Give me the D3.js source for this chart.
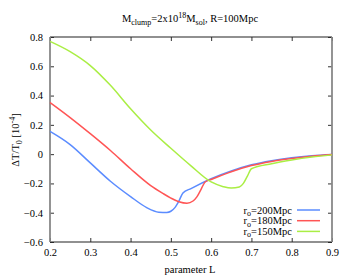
<!DOCTYPE html>
<html>
<head>
<meta charset="utf-8">
<script src="https://cdn.jsdelivr.net/npm/d3@7"></script>
<style>
  body { margin: 0; background: #fff; }
  text { font-family: "Liberation Serif", "DejaVu Serif", serif; fill: #000; }
</style>
</head>
<body>
<div id="chart"></div>
<script>
// data
var xTicks = [0.2, 0.3, 0.4, 0.5, 0.6, 0.7, 0.8, 0.9]
var yTicks = [-0.6, -0.4, -0.2, 0, 0.2, 0.4, 0.6, 0.8]

var blueL = [0.2, 0.25, 0.3, 0.35, 0.4, 0.44, 0.47, 0.49, 0.5, 0.51, 0.52, 0.53, 0.55, 0.6, 0.65, 0.7, 0.75, 0.8, 0.85, 0.9]
var blueV = [0.155, 0.065, -0.06, -0.185, -0.29, -0.365, -0.396, -0.398, -0.39, -0.365, -0.32, -0.265, -0.235, -0.168, -0.115, -0.073, -0.045, -0.025, -0.011, -0.002]

var redL = [0.2, 0.25, 0.3, 0.35, 0.4, 0.45, 0.48, 0.5, 0.52, 0.54, 0.555, 0.565, 0.575, 0.585, 0.6, 0.65, 0.7, 0.75, 0.8, 0.85, 0.9]
var redV = [0.353, 0.25, 0.14, 0.025, -0.1, -0.215, -0.268, -0.3, -0.325, -0.335, -0.32, -0.29, -0.24, -0.19, -0.173, -0.12, -0.078, -0.05, -0.03, -0.014, -0.003]

var greenL = [0.2, 0.25, 0.3, 0.35, 0.4, 0.45, 0.5, 0.55, 0.6, 0.63, 0.65, 0.67, 0.68, 0.69, 0.7, 0.75, 0.8, 0.85, 0.9]
var greenV = [0.77, 0.7, 0.605, 0.47, 0.31, 0.165, 0.04, -0.08, -0.19, -0.222, -0.232, -0.225, -0.2, -0.15, -0.1, -0.065, -0.04, -0.02, -0.005]

var seriesNames = ["200", "180", "150"]
var seriesColors = ["#5b8cff", "#ff5555", "#aaee44"]

var width = 350, height = 280
var plot = {left: 50, right: 332, top: 37, bottom: 242}
var serif = "Liberation Serif, DejaVu Serif, serif"

var svg = d3.select("#chart").append("svg")
    .attr("width", width).attr("height", height)

var x = d3.scaleLinear().domain([0.2, 0.9]).range([plot.left, plot.right])
var y = d3.scaleLinear().domain([-0.6, 0.8]).range([plot.bottom, plot.top])

// ticks on all four sides, pointing in
var fmt = function(d) { return d === 0 ? "0" : d3.format(".1f")(d) }
svg.append("g").attr("transform", "translate(0," + plot.bottom + ")")
    .call(d3.axisBottom(x).tickValues(xTicks).tickSizeInner(-4).tickSizeOuter(0).tickPadding(7).tickFormat(fmt))
svg.append("g").attr("transform", "translate(0," + plot.top + ")")
    .call(d3.axisTop(x).tickValues(xTicks).tickSizeInner(-4).tickSizeOuter(0).tickFormat(""))
svg.append("g").attr("transform", "translate(" + plot.left + ",0)")
    .call(d3.axisLeft(y).tickValues(yTicks).tickSizeInner(-4).tickSizeOuter(0).tickPadding(7).tickFormat(fmt))
svg.append("g").attr("transform", "translate(" + plot.right + ",0)")
    .call(d3.axisRight(y).tickValues(yTicks).tickSizeInner(-4).tickSizeOuter(0).tickFormat(""))

svg.selectAll(".domain").remove()
svg.selectAll("g").attr("font-family", serif).attr("font-size", 10.5)
svg.selectAll(".tick line").attr("stroke", "#333")
svg.selectAll(".tick text").attr("fill", "#000")

// frame: top/bottom dark, sides gray
svg.append("line").attr("x1", plot.left).attr("x2", plot.right).attr("y1", plot.top).attr("y2", plot.top)
    .attr("stroke", "#222").attr("stroke-width", 1.2)
svg.append("line").attr("x1", plot.left).attr("x2", plot.right).attr("y1", plot.bottom).attr("y2", plot.bottom)
    .attr("stroke", "#222").attr("stroke-width", 1.2)
svg.append("line").attr("x1", plot.left).attr("x2", plot.left).attr("y1", plot.top).attr("y2", plot.bottom)
    .attr("stroke", "#888").attr("stroke-width", 1.8)
svg.append("line").attr("x1", plot.right).attr("x2", plot.right).attr("y1", plot.top).attr("y2", plot.bottom)
    .attr("stroke", "#888").attr("stroke-width", 1.8)

// curves
var line = d3.line().x(function(d) { return x(d[0]) }).y(function(d) { return y(d[1]) }).curve(d3.curveMonotoneX)
var series = [d3.zip(blueL, blueV), d3.zip(redL, redV), d3.zip(greenL, greenV)]
series.forEach(function(s, i) {
  svg.append("path").datum(s).attr("d", line)
      .attr("fill", "none").attr("stroke", seriesColors[i]).attr("stroke-width", 1.5)
})

// legend
seriesNames.forEach(function(n, i) {
  var ly = 210 + i * 10.7
  var t = svg.append("text").attr("x", 292).attr("y", ly + 3.5).attr("text-anchor", "end").style("font-size", "10.5px")
  t.append("tspan").text("r")
  t.append("tspan").attr("dy", 2.5).style("font-size", "8px").text("o")
  t.append("tspan").attr("dy", -2.5).text("=" + n + "Mpc")
  svg.append("line").attr("x1", 297).attr("x2", 320).attr("y1", ly).attr("y2", ly)
      .attr("stroke", seriesColors[i]).attr("stroke-width", 1.5)
})

// title
var title = svg.append("text").attr("x", 190).attr("y", 22).attr("text-anchor", "middle").style("font-size", "10.5px")
title.append("tspan").text("M")
title.append("tspan").attr("dy", 2.5).style("font-size", "8px").text("clump")
title.append("tspan").attr("dy", -2.5).text("=2x10")
title.append("tspan").attr("dy", -4).style("font-size", "8px").text("18")
title.append("tspan").attr("dy", 4).text("M")
title.append("tspan").attr("dy", 2.5).style("font-size", "8px").text("sol")
title.append("tspan").attr("dy", -2.5).text(", R=100Mpc")

// axis labels
svg.append("text").attr("x", 190).attr("y", 273).attr("text-anchor", "middle").style("font-size", "10.5px").text("parameter L")

var yl = svg.append("text").attr("transform", "translate(19,140) rotate(-90)").attr("text-anchor", "middle").style("font-size", "10.5px")
yl.append("tspan").text("\u0394T/T")
yl.append("tspan").attr("dy", 2.5).style("font-size", "8px").text("0")
yl.append("tspan").attr("dy", -2.5).text(" [10")
yl.append("tspan").attr("dy", -4).style("font-size", "8px").text("-4")
yl.append("tspan").attr("dy", 4).text("]")
</script>
</body>
</html>
